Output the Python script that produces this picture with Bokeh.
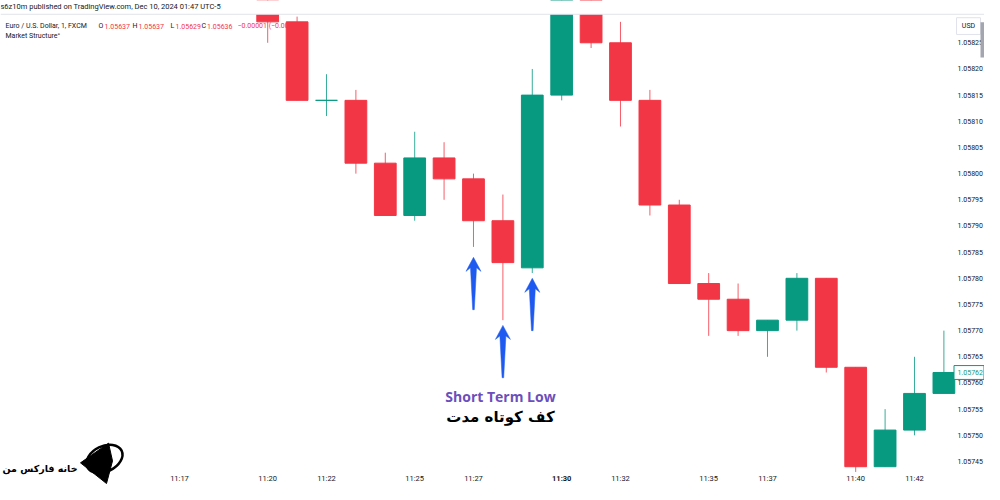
from bokeh.plotting import figure
from bokeh.models import Range1d, Span, ColumnDataSource
from bokeh.core.properties import value
from bokeh.embed import file_html
from bokeh.resources import INLINE

# ---------------- data (EUR/USD 1-minute candles, minutes after 11:00) ----------------
minutes = list(range(20, 44))
opens  = [1.05833, 1.05829, 1.05814, 1.05814, 1.05802, 1.05792, 1.05803, 1.05799,
          1.05791, 1.05782, 1.05815, 1.05834, 1.05825, 1.05814, 1.05794, 1.05779,
          1.05776, 1.05770, 1.05772, 1.05780, 1.05763, 1.05744, 1.05751, 1.05758]
highs  = [1.05834, 1.05830, 1.05819, 1.05816, 1.05804, 1.05808, 1.05806, 1.05800,
          1.05796, 1.05820, 1.05836, 1.05836, 1.05829, 1.05816, 1.05795, 1.05781,
          1.05779, 1.05772, 1.05781, 1.05780, 1.05763, 1.05755, 1.05765, 1.05770]
lows   = [1.05825, 1.05814, 1.05811, 1.05800, 1.05792, 1.05791, 1.05795, 1.05786,
          1.05772, 1.05781, 1.05814, 1.05824, 1.05809, 1.05792, 1.05779, 1.05769,
          1.05769, 1.05765, 1.05770, 1.05762, 1.05743, 1.05744, 1.05750, 1.05758]
closes = [1.05829, 1.05814, 1.05814, 1.05802, 1.05792, 1.05803, 1.05799, 1.05791,
          1.05783, 1.05815, 1.05834, 1.05825, 1.05814, 1.05794, 1.05779, 1.05776,
          1.05770, 1.05772, 1.05780, 1.05763, 1.05744, 1.05751, 1.05758, 1.05762]

time_ticks  = [17, 20, 22, 25, 27, 30, 32, 35, 37, 40, 42]
time_labels = ["11:17", "11:20", "11:22", "11:25", "11:27", "11:30",
               "11:32", "11:35", "11:37", "11:40", "11:42"]
time_styles = ["normal"] * 5 + ["bold"] + ["normal"] * 5

price_ticks  = [1.05745, 1.05750, 1.05755, 1.05760, 1.05765, 1.05770, 1.05775, 1.05780,
                1.05785, 1.05790, 1.05795, 1.05800, 1.05805, 1.05810, 1.05815, 1.05820, 1.05825]
price_labels = ["1.05745", "1.05750", "1.05755", "1.05760", "1.05765", "1.05770", "1.05775",
                "1.05780", "1.05785", "1.05790", "1.05795", "1.05800", "1.05805", "1.05810",
                "1.05815", "1.05820", "1.05825"]

arrow_minutes = [27, 28, 29]
arrow_tips    = [1.05784, 1.05771, 1.05780]
arrow_tails   = [1.05774, 1.05761, 1.05770]

last_price = 1.05762
last_label = "1.05762"

legend_texts = ["Euro / U.S. Dollar, 1, FXCM", "O", "1.05637", "H", "1.05637",
                "L", "1.05629", "C", "1.05636", "\u22120.00001 (\u22120.00%)"]

# ---------------- style ----------------
RED = "#F23645"
GREEN = "#089981"
BLUE = "#1E5AF0"
INK = "#131722"
PURPLE = "#6B4FBB"
UI_FONT = "Roboto"

W, H = 984, 484
X0, X1 = 10.912, 44.381          # minutes across the whole canvas
Y_BOT, Y_TOP = 1.0574060, 1.0583308

p = figure(width=W, height=H, x_range=Range1d(X0, X1), y_range=Range1d(Y_BOT, Y_TOP),
           x_axis_location=None, y_axis_location=None, title=None,
           output_backend="svg", toolbar_location=None,
           min_border_left=0, min_border_right=0, min_border_top=0, min_border_bottom=0,
           background_fill_color="white", border_fill_color="white", outline_line_color=None)
p.grid.visible = False

# screen-like overlay coordinates (x: px to the right, y: px downward)
p.extra_x_ranges = {"ref": Range1d(0, 984)}
p.extra_y_ranges = {"ref": Range1d(492, 0)}

# legend header (drawn under candles)
leg_x = [5, 98, 104, 132, 138, 170, 175, 201, 206.5, 237]
leg_c = [INK, INK, RED, INK, RED, INK, RED, INK, RED, RED]
p.text(x=leg_x, y=[26] * len(leg_x), text=legend_texts, text_color=leg_c,
       x_range_name="ref", y_range_name="ref", text_font=value(UI_FONT),
       text_font_size="7px", text_baseline="middle", text_align="left")
p.text(x=[5], y=[36], text=["Market Structure\u00b0"], text_color=INK,
       x_range_name="ref", y_range_name="ref", text_font=value(UI_FONT),
       text_font_size="7px", text_baseline="middle", text_align="left")

# candles
colors = [GREEN if c >= o else RED for o, c in zip(opens, closes)]
src = ColumnDataSource(dict(
    x=minutes, o=opens, h=highs, l=lows, c=closes, color=colors,
    top=[max(o, c) for o, c in zip(opens, closes)],
    bottom=[min(o, c) for o, c in zip(opens, closes)],
))
p.segment(x0="x", y0="l", x1="x", y1="h", line_color="color", line_width=1,
          line_alpha=0.8, source=src)
p.vbar(x="x", width=0.74, top="top", bottom="bottom", fill_color="color",
       line_color="color", line_width=1, source=src)

# header band above the chart pane
p.quad(left=[0], right=[984], top=[0], bottom=[14], x_range_name="ref",
       y_range_name="ref", fill_color="white", line_color=None)
p.add_layout(Span(location=14, dimension="width", y_range_name="ref",
                  line_color="#e0e3eb", line_width=1))
p.text(x=[0], y=[6], text=["s6z10m published on TradingView.com, Dec 10, 2024 01:47 UTC-5"],
       x_range_name="ref", y_range_name="ref", text_font=value(UI_FONT),
       text_font_size="7.5px", text_color=INK, text_align="left", text_baseline="middle")

# price scale (right)
PX = 957
p.text(x=[PX] * len(price_ticks), y=price_ticks, text=price_labels, x_range_name="ref",
       text_font=value(UI_FONT), text_font_size="7px", text_color=INK,
       text_align="left", text_baseline="middle")
p.rect(x=[968], y=[26], width=[24], height=[17], x_range_name="ref", y_range_name="ref",
       fill_color="white", line_color="#e0e3eb")
p.text(x=[968], y=[26], text=["USD"], x_range_name="ref", y_range_name="ref",
       text_font=value(UI_FONT), text_font_size="7px", text_color=INK,
       text_align="center", text_baseline="middle")
p.quad(left=[980], right=[990], top=[22], bottom=[58], x_range_name="ref",
       y_range_name="ref", fill_color="#a3a6af", line_color=None)
p.rect(x=[968.5], y=[last_price], width=[30], height=[0.0000265], x_range_name="ref",
       fill_color="white", line_color=GREEN)
p.text(x=[PX], y=[last_price], text=[last_label], x_range_name="ref",
       text_font=value(UI_FONT), text_font_size="7px", text_color=GREEN,
       text_align="left", text_baseline="middle")

# time scale (bottom)
tsrc = ColumnDataSource(dict(x=time_ticks, y=[486] * len(time_ticks),
                             text=time_labels, style=time_styles))
p.text(x="x", y="y", text="text", text_font_style="style", source=tsrc,
       y_range_name="ref", text_font=value(UI_FONT), text_font_size="7.5px",
       text_color=INK, text_align="center", text_baseline="middle")

# arrows pointing at the lows
xpu = 984 / (X1 - X0)
ypu = 484 / (Y_TOP - Y_BOT)
xs, ys = [], []
for m, tip, tail in zip(arrow_minutes, arrow_tips, arrow_tails):
    shape = [(0, 0), (7.5, -14), (3, -10.5), (0.8, None), (-0.8, None), (-3, -10.5), (-7.5, -14)]
    ax, ay = [], []
    for dx, dy in shape:
        ax.append(m + dx / xpu)
        ay.append(tail if dy is None else tip + dy / ypu)
    xs.append(ax)
    ys.append(ay)
p.patches(xs=xs, ys=ys, fill_color=BLUE, line_color=BLUE, line_width=0.5)

# annotation texts
p.text(x=[500], y=[403], text=["Short Term Low"], x_range_name="ref", y_range_name="ref",
       text_font=value("Open Sans"), text_font_style="bold", text_font_size="14px",
       text_color=PURPLE, text_align="center", text_baseline="middle")
p.text(x=[500], y=[423], text=["کف کوتاه مدت"], x_range_name="ref", y_range_name="ref",
       text_font=value("DejaVu Sans"), text_font_style="bold", text_font_size="15px",
       text_color="#000000", text_align="center", text_baseline="middle")

# logo (bottom-left)
p.text(x=[77], y=[476], text=["خانه فارکس من"], x_range_name="ref", y_range_name="ref",
       text_font=value("DejaVu Sans"), text_font_style="bold", text_font_size="9.5px",
       text_color="#000000", text_align="right", text_baseline="middle")
p.patch(x=[80, 108, 112, 106], y=[470, 450, 468, 491], x_range_name="ref",
        y_range_name="ref", fill_color="#000000", line_color="#000000")
p.ellipse(x=[104], y=[466], width=[38], height=[26], angle=[0.45], x_range_name="ref",
          y_range_name="ref", fill_color=None, line_color="#000000", line_width=2.5)

open("out.html", "w").write(file_html(p, INLINE))
